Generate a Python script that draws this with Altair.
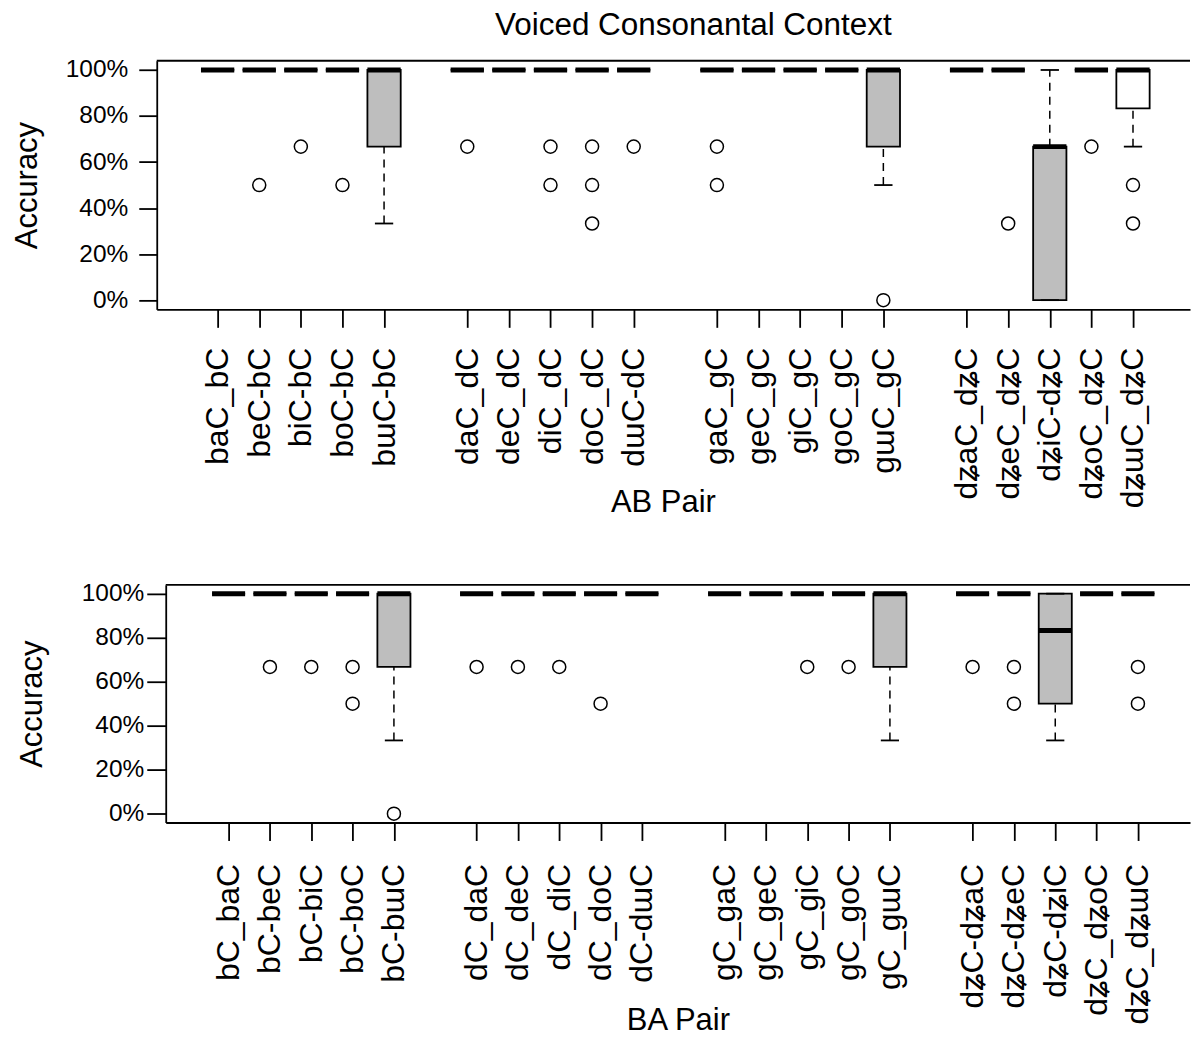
import json

import altair as alt
import pandas as pd

FONT = "Liberation Sans"
GREY = "#bebebe"

# ---- AB pairs (top panel) -------------------------------------------------
ab_labels = ["baC_bC", "beC-bC", "biC-bC", "boC-bC", "bɯC-bC",
             "daC_dC", "deC_dC", "diC_dC", "doC_dC", "dɯC-dC",
             "gaC_gC", "geC_gC", "giC_gC", "goC_gC", "gɯC_gC",
             "dʑaC_dʑC", "dʑeC_dʑC", "dʑiC-dʑC", "dʑoC_dʑC", "dʑɯC_dʑC"]
ab_q1 = [1, 1, 1, 1, 0.667, 1, 1, 1, 1, 1, 1, 1, 1, 1, 0.667, 1, 1, 0.0, 1, 0.833]
ab_median = [1, 1, 1, 1, 1, 1, 1, 1, 1, 1, 1, 1, 1, 1, 1, 1, 1, 0.667, 1, 1]
ab_q3 = [1, 1, 1, 1, 1, 1, 1, 1, 1, 1, 1, 1, 1, 1, 1, 1, 1, 0.667, 1, 1]
ab_low = [1, 1, 1, 1, 0.333, 1, 1, 1, 1, 1, 1, 1, 1, 1, 0.5, 1, 1, 0.0, 1, 0.667]
ab_high = [1] * 20
ab_fill = [GREY] * 19 + ["white"]
ab_outliers = [[], [0.5], [0.667], [0.5], [],
               [0.667], [], [0.667, 0.5], [0.667, 0.5, 0.333], [0.667],
               [0.667, 0.5], [], [], [], [0.0],
               [], [0.333], [], [0.667], [0.5, 0.333]]

# ---- BA pairs (bottom panel) ----------------------------------------------
ba_labels = ["bC_baC", "bC-beC", "bC-biC", "bC-boC", "bC-bɯC",
             "dC_daC", "dC_deC", "dC_diC", "dC_doC", "dC-dɯC",
             "gC_gaC", "gC_geC", "gC_giC", "gC_goC", "gC_gɯC",
             "dʑC-dʑaC", "dʑC-dʑeC", "dʑC-dʑiC", "dʑC_dʑoC", "dʑC_dʑɯC"]
ba_q1 = [1, 1, 1, 1, 0.667, 1, 1, 1, 1, 1, 1, 1, 1, 1, 0.667, 1, 1, 0.5, 1, 1]
ba_median = [1, 1, 1, 1, 1, 1, 1, 1, 1, 1, 1, 1, 1, 1, 1, 1, 1, 0.833, 1, 1]
ba_q3 = [1] * 20
ba_low = [1, 1, 1, 1, 0.333, 1, 1, 1, 1, 1, 1, 1, 1, 1, 0.333, 1, 1, 0.333, 1, 1]
ba_high = [1] * 20
ba_fill = [GREY] * 20
ba_outliers = [[], [0.667], [0.667], [0.667, 0.5], [0.0],
               [0.667], [0.667], [0.667], [0.5], [],
               [], [], [0.667], [0.667], [],
               [0.667], [0.667, 0.5], [], [], [0.667, 0.5]]

# four consonant groups of five, with an empty slot between groups
positions = [6 * (k // 5) + k % 5 + 1 for k in range(20)]

BOX_HALF = 0.4
CAP_HALF = 0.22
LW = 1.8
LEFT_EXTENT = 150


def panel(labels, q1, med, q3, low, high, fills, outliers, *, width, height,
          xdomain, xtitle, xtitle_x, xtitle_y, ytitle_x, tick_y, pad_y,
          pad_x, title=None):
    df = pd.DataFrame({
        "pos": positions, "label": labels, "q1": q1, "med": med, "q3": q3,
        "low": low, "high": high, "fill": fills,
    })
    df["left"] = df["pos"] - BOX_HALF
    df["right"] = df["pos"] + BOX_HALF
    df["capl"] = df["pos"] - CAP_HALF
    df["capr"] = df["pos"] + CAP_HALF
    out = pd.DataFrame([(p, v) for p, vals in zip(positions, outliers) for v in vals],
                       columns=["pos", "value"])

    names = [""] * 26
    for p, lab in zip(positions, labels):
        names[p] = lab
    label_expr = json.dumps(names, ensure_ascii=False) + "[datum.value]"

    xs = alt.Scale(domain=xdomain, nice=False, zero=False)
    ys = alt.Scale(domain=[-0.04, 1.04], nice=False, zero=False)
    xaxis = alt.Axis(
        values=positions, labelExpr=label_expr, labelAngle=270,
        labelFontSize=32, labelPadding=pad_x, labelOverlap=False, labelFlush=False,
        tickSize=18, title=xtitle, titleX=xtitle_x, titleY=xtitle_y,
        titleAlign="center", titleBaseline="alphabetic",
    )
    yaxis = alt.Axis(
        values=[0, 0.2, 0.4, 0.6, 0.8, 1.0], format=".0%",
        labelFontSize=24.5, tickSize=tick_y, labelPadding=pad_y,
        title="Accuracy", titleAngle=270, titleX=ytitle_x, titleY=height / 2,
        titleAlign="center", titleBaseline="middle",
    )

    base = alt.Chart(df)
    box = base.mark_rect(stroke="black", strokeWidth=LW).encode(
        x=alt.X("left:Q", scale=xs, axis=xaxis),
        x2="right:Q",
        y=alt.Y("q1:Q", scale=ys, axis=yaxis),
        y2="q3:Q",
        fill=alt.Fill("fill:N", scale=None),
    )
    whisk_lo = base.mark_rule(color="black", strokeWidth=1.5, strokeDash=[8, 6]).encode(
        x=alt.X("pos:Q", scale=xs, axis=xaxis), y=alt.Y("low:Q", scale=ys, axis=yaxis), y2="q1:Q")
    whisk_hi = base.mark_rule(color="black", strokeWidth=1.5, strokeDash=[8, 6]).encode(
        x=alt.X("pos:Q", scale=xs, axis=xaxis), y=alt.Y("q3:Q", scale=ys, axis=yaxis), y2="high:Q")
    cap_lo = base.mark_rule(color="black", strokeWidth=LW).encode(
        x=alt.X("capl:Q", scale=xs, axis=xaxis), x2="capr:Q", y=alt.Y("low:Q", scale=ys, axis=yaxis))
    cap_hi = base.mark_rule(color="black", strokeWidth=LW).encode(
        x=alt.X("capl:Q", scale=xs, axis=xaxis), x2="capr:Q", y=alt.Y("high:Q", scale=ys, axis=yaxis))
    median = base.mark_rule(color="black", strokeWidth=5, strokeCap="butt").encode(
        x=alt.X("left:Q", scale=xs, axis=xaxis), x2="right:Q", y=alt.Y("med:Q", scale=ys, axis=yaxis))
    points = alt.Chart(out).mark_point(
        shape="circle", filled=False, color="black", size=170, strokeWidth=1.5, opacity=1
    ).encode(x=alt.X("pos:Q", scale=xs, axis=xaxis), y=alt.Y("value:Q", scale=ys, axis=yaxis))
    single = pd.DataFrame({"edge": [0]})
    top_edge = alt.Chart(single).mark_rule(color="black", strokeWidth=LW).encode(
        x=alt.value(0), x2=alt.value(width), y=alt.value(0))
    # invisible anchor fixing how far the panel reaches to the left of its plot
    anchor = alt.Chart(single).mark_point(opacity=0, size=1).encode(
        x=alt.value(-LEFT_EXTENT), y=alt.value(height / 2))

    layered = alt.layer(box, whisk_lo, whisk_hi, cap_lo, cap_hi, median, points,
                        top_edge, anchor)
    props = dict(width=width, height=height)
    if title is not None:
        props["title"] = title
    return layered.properties(**props)


def gap(w):
    # blank column used to indent a panel
    return alt.Chart(pd.DataFrame({"v": [0]})).mark_point(opacity=0, size=1).encode(
        x=alt.value(0), y=alt.value(0)).properties(width=w, height=1)


title = alt.TitleParams(
    "Voiced Consonantal Context", anchor="middle", frame="group", dx=20,
    fontSize=31.5, fontWeight="normal", font=FONT, color="black",
    baseline="alphabetic", offset=-9,
)

top = panel(ab_labels, ab_q1, ab_median, ab_q3, ab_low, ab_high, ab_fill, ab_outliers,
            width=1035, height=249, xdomain=[-0.4635, 24.37],
            xtitle="AB Pair", xtitle_x=507, xtitle_y=202,
            ytitle_x=-129, tick_y=18, pad_y=11, pad_x=20, title=title)

bottom = panel(ba_labels, ba_q1, ba_median, ba_q3, ba_low, ba_high, ba_fill, ba_outliers,
               width=1026, height=238, xdomain=[-0.521, 24.26],
               xtitle="BA Pair", xtitle_x=513, xtitle_y=207,
               ytitle_x=-133, tick_y=19, pad_y=3, pad_x=23)

chart = alt.vconcat(
    alt.hconcat(gap(1), top, spacing=0),
    alt.hconcat(gap(10), bottom, spacing=0),
    spacing=62,
).properties(
    padding={"left": 3, "top": 8, "right": 0, "bottom": 0},
    background="white",
).configure_view(
    stroke="transparent",
).configure_axis(
    grid=False, domainColor="black", domainWidth=LW, tickColor="black", tickWidth=LW,
    labelColor="black", titleColor="black", labelFont=FONT, titleFont=FONT,
    titleFontSize=31, titleFontWeight="normal",
)

chart.save("out.html", embed_options={"renderer": "svg", "actions": False})
